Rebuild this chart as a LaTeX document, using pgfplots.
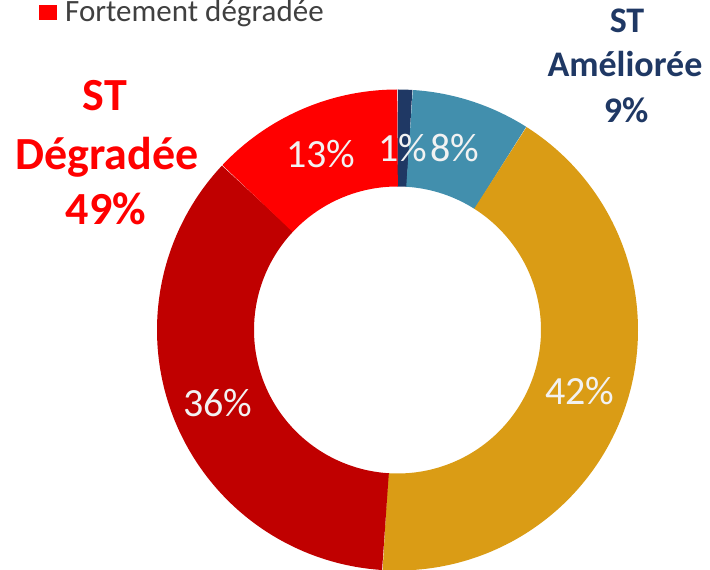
\documentclass[border=0pt]{standalone}
\usepackage{pgfplots}
\pgfplotsset{compat=1.18}
\usepackage{pgfplotstable}
\usepackage{fontspec}
\setmainfont{Carlito}
\definecolor{cnavy}{HTML}{1F3864}
\definecolor{cteal}{HTML}{428FAD}
\definecolor{cgold}{HTML}{DA9C15}
\definecolor{cdred}{HTML}{C00000}
\definecolor{cred}{HTML}{FF0000}
\definecolor{clab}{HTML}{F2F2F2}
\definecolor{clegend}{HTML}{404040}
% share of each slice, clockwise from the top
\pgfplotstableread{
idx value
0 1
1 8
2 42
3 36
4 13
}\donut
\pgfplotstablegetelem{0}{value}\of\donut \let\vA\pgfplotsretval
\pgfplotstablegetelem{1}{value}\of\donut \let\vB\pgfplotsretval
\pgfplotstablegetelem{2}{value}\of\donut \let\vC\pgfplotsretval
\pgfplotstablegetelem{3}{value}\of\donut \let\vD\pgfplotsretval
\pgfplotstablegetelem{4}{value}\of\donut \let\vE\pgfplotsretval
\pgfmathsetmacro\aA{90}
\pgfmathsetmacro\aB{\aA-3.6*\vA}
\pgfmathsetmacro\aC{\aB-3.6*\vB}
\pgfmathsetmacro\aD{\aC-3.6*\vC}
\pgfmathsetmacro\aE{\aD-3.6*\vD}
\pgfmathsetmacro\aF{\aE-3.6*\vE}
\begin{document}
\begin{tikzpicture}
\useasboundingbox (0,0) rectangle (710pt,570pt);
\clip (0,0) rectangle (710pt,570pt);
\begin{axis}[at={(0,0)}, anchor=south west, scale only axis,
  width=710pt, height=570pt, xmin=0, xmax=710, ymin=0, ymax=570,
  hide axis, clip=false]
\addplot[cnavy, line width=97pt, domain=\aA:\aB, samples=6, variable=\t] ({397.5+192*cos(\t)},{240+192*sin(\t)});
\addplot[cteal, line width=97pt, domain=\aB:\aC, samples=40, variable=\t] ({397.5+192*cos(\t)},{240+192*sin(\t)});
\addplot[cgold, line width=97pt, domain=\aC:\aD, samples=200, variable=\t] ({397.5+192*cos(\t)},{240+192*sin(\t)});
\addplot[cdred, line width=97pt, domain=\aD:\aE, samples=180, variable=\t] ({397.5+192*cos(\t)},{240+192*sin(\t)});
\addplot[cred, line width=97pt, domain=\aE:\aF, samples=70, variable=\t] ({397.5+192*cos(\t)},{240+192*sin(\t)});
% slice labels
\node[font=\fontsize{40}{48}\selectfont, text=clab, anchor=base] at (axis cs:218,153) {36\%};
\node[font=\fontsize{40}{48}\selectfont, text=clab, anchor=base] at (axis cs:580,165) {42\%};
\node[font=\fontsize{40}{48}\selectfont, text=clab, anchor=base] at (axis cs:321,402) {13\%};
\node[font=\fontsize{40}{48}\selectfont, text=clab, anchor=base] at (axis cs:455,408) {8\%};
\node[font=\fontsize{40}{48}\selectfont, text=clab, anchor=base] at (axis cs:403,408) {1\%};
% group labels
\node[font=\fontsize{46}{55}\bfseries\selectfont, text=cred, anchor=base] at (axis cs:105,459) {ST};
\node[font=\fontsize{46}{55}\bfseries\selectfont, text=cred, anchor=base] at (axis cs:107,400) {Dégradée};
\node[font=\fontsize{46}{55}\bfseries\selectfont, text=cred, anchor=base] at (axis cs:106,345) {49\%};
\node[font=\fontsize{36}{44}\bfseries\selectfont, text=cnavy, anchor=base] at (axis cs:627,537) {ST};
\node[font=\fontsize{36}{44}\bfseries\selectfont, text=cnavy, anchor=base] at (axis cs:625,493) {Améliorée};
\node[font=\fontsize{36}{44}\bfseries\selectfont, text=cnavy, anchor=base] at (axis cs:626,447) {9\%};
% legend entry
\node[fill=cred, inner sep=0pt, minimum width=18pt, minimum height=15pt, anchor=south west] at (axis cs:39,550) {};
\node[font=\fontsize{31}{36}\selectfont, text=clegend, anchor=base west, inner sep=0pt] at (axis cs:65,548) {Fortement dégradée};
\end{axis}
\end{tikzpicture}
\end{document}
